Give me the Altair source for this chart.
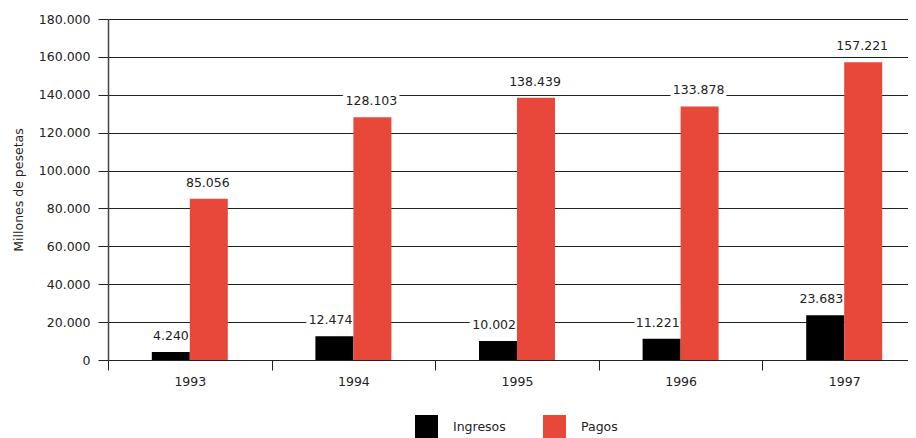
import altair as alt
import pandas as pd

years = ["1993", "1994", "1995", "1996", "1997"]
ingresos = [4240, 12474, 10002, 11221, 23683]
pagos = [85056, 128103, 138439, 133878, 157221]
series = ["Ingresos", "Pagos"]
colors = ["#000000", "#E8483A"]
y_ticks = [0, 20000, 40000, 60000, 80000, 100000, 120000, 140000, 160000, 180000]

rows = []
for i, yr in enumerate(years):
    rows.append({"year": yr, "serie": "Ingresos", "value": ingresos[i]})
    rows.append({"year": yr, "serie": "Pagos", "value": pagos[i]})
df = pd.DataFrame(rows)

FONT = "DejaVu Sans"
FS = 12.5
STEP = 163.6
BAR = 38

x_enc = alt.X("year:N", sort=years, title=None,
              scale=alt.Scale(paddingInner=0, paddingOuter=0, range=[0, 5 * STEP]),
              axis=alt.Axis(labelAngle=0, tickBand="extent", tickSize=10,
                            labelPadding=5, domainColor="#222", tickColor="#222",
                            labelColor="#222", labelFontSize=FS, labelFont=FONT,
                            grid=False))
xoff_enc = alt.XOffset("serie:N", sort=series,
                       scale=alt.Scale(paddingInner=0, paddingOuter=0,
                                       range=[STEP / 2 - BAR, STEP / 2 + BAR]))
y_enc = alt.Y("value:Q", title="Millones de pesetas",
              scale=alt.Scale(domain=[0, 180000], nice=False, zero=True),
              axis=alt.Axis(values=y_ticks, labelOverlap=False,
                            labelExpr="replace(format(datum.value, ','), ',', '.')",
                            tickSize=10, labelPadding=8, grid=True,
                            gridColor="#222", gridWidth=1.2,
                            domainColor="#444", domainWidth=1.5, tickColor="#222",
                            labelColor="#222", labelFontSize=FS, labelFont=FONT,
                            titleFont=FONT, titleFontSize=FS, titleFontWeight="normal",
                            titleColor="#222", titlePadding=13))

base = alt.Chart(df).transform_calculate(
    label="replace(format(datum.value, ','), ',', '.')"
)

bars = base.mark_bar().encode(
    x=x_enc,
    xOffset=xoff_enc,
    y=y_enc,
    color=alt.Color("serie:N", sort=series,
                    scale=alt.Scale(domain=series, range=colors),
                    legend=alt.Legend(title=None, orient="none", direction="horizontal",
                                      legendX=307, legendY=396,
                                      symbolType="square", symbolSize=529,
                                      symbolStrokeWidth=0, symbolOpacity=1,
                                      labelFont=FONT, labelFontSize=FS,
                                      labelColor="#222", labelOffset=15,
                                      columnPadding=37)),
)


def text_layer(serie, halo):
    if serie == "Ingresos":
        kw = dict(align="right", dx=BAR / 2 - 1)
    else:
        kw = dict(align="center", dx=-1)
    if halo:
        style = dict(stroke="white", strokeWidth=8, fill="white", strokeJoin="round")
    else:
        style = dict(color="#222")
    return base.transform_filter(alt.datum.serie == serie).mark_text(
        baseline="middle", dy=-16, font=FONT, fontSize=FS, **kw, **style
    ).encode(x=x_enc, xOffset=xoff_enc, y=y_enc, text="label:N")


chart = alt.layer(
    text_layer("Ingresos", True), text_layer("Pagos", True),
    bars,
    text_layer("Ingresos", False), text_layer("Pagos", False),
).properties(
    width=800, height=341,
    autosize=alt.AutoSizeParams(type="none"),
    padding={"left": 100, "top": 11, "right": 0, "bottom": 78},
).configure_view(stroke=None)

chart.save("out.html", embed_options={"renderer": "svg", "actions": False})
